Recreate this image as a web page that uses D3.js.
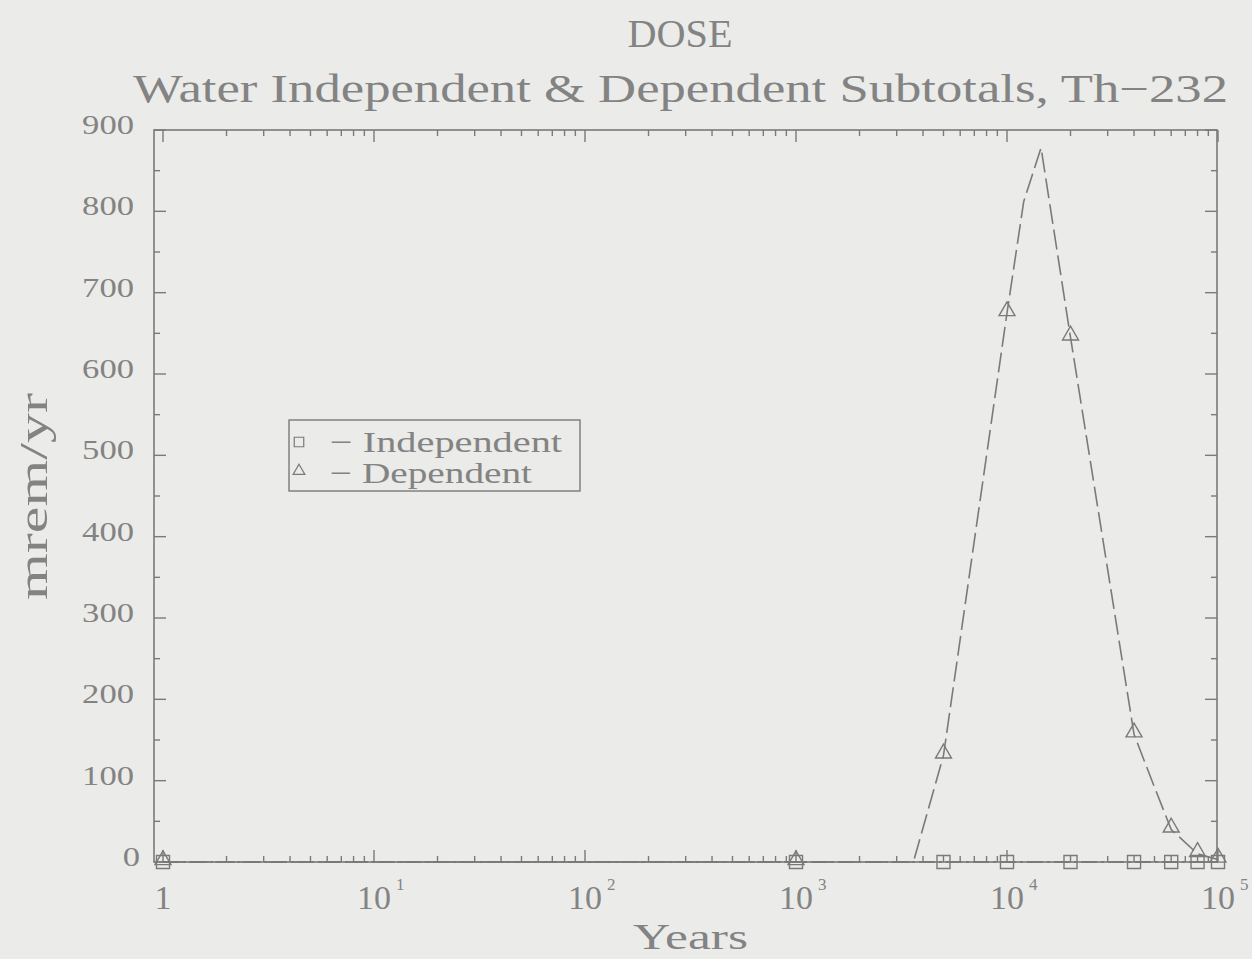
<!DOCTYPE html>
<html>
<head>
<meta charset="utf-8">
<script src="https://cdn.jsdelivr.net/npm/d3@7"></script>
<style>
  html, body { margin: 0; padding: 0; background: #ebebe9; }
  svg { display: block; }
  text { font-family: "Liberation Serif", "DejaVu Serif", serif; fill: #838383; }
</style>
</head>
<body>
<svg id="chart" width="1252" height="959"></svg>
<script>
// Output times (years) shared by both subtotals; markers are drawn at these.
const gridYears = [1, 1000, 5000, 10000, 20000, 40000, 60000, 80000, 100000];
const independentDose = [0, 0, 0, 0, 0, 0, 0, 0, 0];
const dependentMarked = [0, 0, 131, 675, 645, 157, 40, 10, 3];

// Full dependent curve (includes the unmarked points between outputs).
const dependentYears = [1, 1000, 3600, 5000, 10000, 12000, 14500, 20000, 40000, 50000, 60000, 80000, 100000];
const dependentDose  = [0, 0, 0, 131, 675, 812, 878, 645, 157, 92, 40, 10, 3];

const yTicks = [0, 100, 200, 300, 400, 500, 600, 700, 800, 900];
const xTickValues = [1, 10, 100, 1000, 10000, 100000];
const xTickBase = ["1", "10", "10", "10", "10", "10"];
const xTickExp  = ["", "1", "2", "3", "4", "5"];

const legendLabels = ["Independent", "Dependent"];

const ink = "#7a7a7a";
const svg = d3.select("#chart");

const frame = { left: 154, right: 1217, top: 130, bottom: 862 };
const x = d3.scaleLog().domain([1, 100000]).range([163, 1218]);
const y = d3.scaleLinear().domain([0, 900]).range([frame.bottom, frame.top]);

// Plot frame
svg.append("rect")
  .attr("x", frame.left).attr("y", frame.top)
  .attr("width", frame.right - frame.left).attr("height", frame.bottom - frame.top)
  .attr("fill", "none").attr("stroke", ink).attr("stroke-width", 1.6);

// Log-scale ticks (inward) on bottom and top edges
const minorX = [];
for (let d = 1; d < 100000; d *= 10) for (let k = 2; k <= 9; k++) minorX.push(d * k);
const tickG = svg.append("g").attr("stroke", ink).attr("stroke-width", 1.4);
minorX.forEach(v => {
  tickG.append("line").attr("x1", x(v)).attr("x2", x(v)).attr("y1", frame.bottom).attr("y2", frame.bottom - 6);
  tickG.append("line").attr("x1", x(v)).attr("x2", x(v)).attr("y1", frame.top).attr("y2", frame.top + 6);
});
xTickValues.forEach(v => {
  tickG.append("line").attr("x1", x(v)).attr("x2", x(v)).attr("y1", frame.bottom).attr("y2", frame.bottom - 12);
  tickG.append("line").attr("x1", x(v)).attr("x2", x(v)).attr("y1", frame.top).attr("y2", frame.top + 12);
});

// Linear ticks (inward) on left and right edges, majors at 100, minors at 50
d3.range(0, 901, 50).forEach(v => {
  const len = v % 100 === 0 ? 12 : 6;
  tickG.append("line").attr("x1", frame.left).attr("x2", frame.left + len).attr("y1", y(v)).attr("y2", y(v));
  tickG.append("line").attr("x1", frame.right).attr("x2", frame.right - len).attr("y1", y(v)).attr("y2", y(v));
});

// Y tick labels (wide typewriter-style digits)
svg.append("g").selectAll("text").data(yTicks).join("text")
  .attr("x", d => d === 0 ? 140 : 134).attr("y", d => y(d) + 4)
  .attr("text-anchor", "end").attr("font-size", 27)
  .attr("textLength", d => String(d).length * 17.3).attr("lengthAdjust", "spacingAndGlyphs")
  .text(d => d);

// X tick labels with superscript exponents
const xl = svg.append("g");
xTickValues.forEach((v, i) => {
  xl.append("text").attr("x", x(v)).attr("y", 909)
    .attr("text-anchor", "middle").attr("font-size", 34).text(xTickBase[i]);
  if (xTickExp[i]) {
    xl.append("text").attr("x", x(v) + 22).attr("y", 890)
      .attr("text-anchor", "start").attr("font-size", 17).text(xTickExp[i]);
  }
});

// Titles
svg.append("text").attr("x", 680).attr("y", 47).attr("text-anchor", "middle")
  .attr("font-size", 40).attr("textLength", 105).attr("lengthAdjust", "spacingAndGlyphs").text("DOSE");
svg.append("text").attr("x", 133).attr("y", 102)
  .attr("font-size", 40).attr("textLength", 1095).attr("lengthAdjust", "spacingAndGlyphs")
  .text("Water Independent & Dependent Subtotals, Th\u2212232");

// Axis titles
svg.append("text").attr("x", 633).attr("y", 949)
  .attr("font-size", 36).attr("textLength", 115).attr("lengthAdjust", "spacingAndGlyphs").text("Years");
svg.append("text").attr("transform", "translate(47,600) rotate(-90)")
  .attr("font-size", 40).attr("textLength", 207).attr("lengthAdjust", "spacingAndGlyphs").text("mrem/yr");

// Data lines
const line = d3.line().x(d => x(d[0])).y(d => y(d[1]));
svg.append("path")
  .datum(gridYears.map((v, i) => [v, independentDose[i]]))
  .attr("d", line).attr("fill", "none").attr("stroke", ink)
  .attr("stroke-width", 1.8).attr("stroke-dasharray", "16,4,3,4");
svg.append("path")
  .datum(dependentYears.map((v, i) => [v, dependentDose[i]]))
  .attr("d", line).attr("fill", "none").attr("stroke", ink)
  .attr("stroke-width", 1.6).attr("stroke-dasharray", "20,6");

// Markers
const sq = d3.symbol().type(d3.symbolSquare).size(170);
const tri = d3.symbol().type(d3.symbolTriangle).size(110);
svg.append("g").selectAll("path").data(gridYears.map((v, i) => [v, independentDose[i]])).join("path")
  .attr("transform", d => `translate(${x(d[0])},${y(d[1])})`)
  .attr("d", sq).attr("fill", "none").attr("stroke", ink).attr("stroke-width", 1.4);
svg.append("g").selectAll("path").data(gridYears.map((v, i) => [v, dependentMarked[i]])).join("path")
  .attr("transform", d => `translate(${x(d[0])},${y(d[1]) - 2})`)
  .attr("d", tri).attr("fill", "none").attr("stroke", ink).attr("stroke-width", 1.4);

// Legend
const lg = svg.append("g");
lg.append("rect").attr("x", 289).attr("y", 420).attr("width", 291).attr("height", 71)
  .attr("fill", "none").attr("stroke", ink).attr("stroke-width", 1.4);
lg.append("path").attr("transform", "translate(299,442)")
  .attr("d", d3.symbol().type(d3.symbolSquare).size(90)).attr("fill", "none").attr("stroke", ink).attr("stroke-width", 1.2);
lg.append("path").attr("transform", "translate(299,471)")
  .attr("d", d3.symbol().type(d3.symbolTriangle).size(60)).attr("fill", "none").attr("stroke", ink).attr("stroke-width", 1.2);
lg.append("text").attr("x", 330).attr("y", 452).attr("font-size", 30)
  .attr("textLength", 232).attr("lengthAdjust", "spacingAndGlyphs").text("\u2212 " + legendLabels[0]);
lg.append("text").attr("x", 330).attr("y", 483).attr("font-size", 30)
  .attr("textLength", 202).attr("lengthAdjust", "spacingAndGlyphs").text("\u2212 " + legendLabels[1]);
</script>
</body>
</html>
